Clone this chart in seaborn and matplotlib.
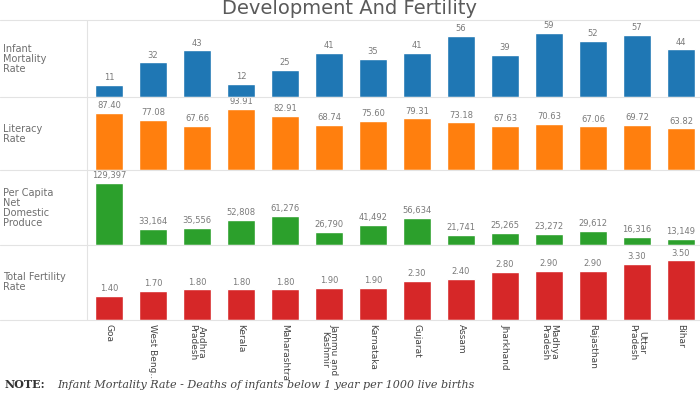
import numpy as np
import pandas as pd
import matplotlib
matplotlib.use("Agg")
import matplotlib.pyplot as plt
import seaborn as sns
from matplotlib.lines import Line2D

sns.set_style("white")
plt.rcParams['font.family'] = ['DejaVu Sans']

# data
states = ["Goa", "West Beng..", "Andhra\nPradesh", "Kerala", "Maharashtra",
          "Jammu and\nKashmir", "Karnataka", "Gujarat", "Assam", "Jharkhand",
          "Madhya\nPradesh", "Rajasthan", "Uttar\nPradesh", "Bihar"]
infant_mortality = [11, 32, 43, 12, 25, 41, 35, 41, 56, 39, 59, 52, 57, 44]
literacy = [87.40, 77.08, 67.66, 93.91, 82.91, 68.74, 75.60, 79.31, 73.18,
            67.63, 70.63, 67.06, 69.72, 63.82]
ndp = [129397, 33164, 35556, 52808, 61276, 26790, 41492, 56634, 21741,
       25265, 23272, 29612, 16316, 13149]
fertility = [1.40, 1.70, 1.80, 1.80, 1.80, 1.90, 1.90, 2.30, 2.40, 2.80,
             2.90, 2.90, 3.30, 3.50]

row_labels = ["Infant\nMortality\nRate", "Literacy\nRate",
              "Per Capita\nNet\nDomestic\nProduce", "Total Fertility\nRate"]
row_values = [infant_mortality, literacy, ndp, fertility]
row_formats = ["{:.0f}", "{:.2f}", "{:,.0f}", "{:.2f}"]
row_ylim = [71, 112, 156600, 4.4]
colors = ["#1f77b4", "#ff7f0e", "#2ca02c", "#d62728"]

W, H = 700, 393
fig = plt.figure(figsize=(7, 3.93), dpi=100)

# row boundaries in pixels (top, bottom)
rows_px = [(20, 97), (97, 170), (170, 245), (245, 320)]
left_px, right_px = 87, 703
grid_c = "#e3e3e3"
text_c = "#6e6e6e"

for i, (top, bot) in enumerate(rows_px):
    ax = fig.add_axes([left_px / W, 1 - bot / H, (right_px - left_px) / W, (bot - top) / H])
    df = pd.DataFrame({"state": states, "value": row_values[i]})
    sns.barplot(data=df, x="state", y="value", color=colors[i], saturation=1,
                width=0.64, ax=ax)
    ax.set_xlim(-0.5, len(states) - 0.5)
    ax.set_ylim(0, row_ylim[i])
    ax.bar_label(ax.containers[0], labels=[row_formats[i].format(v) for v in row_values[i]],
                 padding=2, fontsize=6, color="#7a7a7a")
    ax.set_xlabel("")
    ax.set_ylabel("")
    ax.set_yticks([])
    sns.despine(ax=ax, left=True, bottom=True)
    if i < 3:
        ax.set_xticks([])
    else:
        ax.tick_params(axis="x", length=0, pad=3)
        ax.set_xticks(range(len(states)))
        ax.set_xticklabels(states, rotation=270, fontsize=6.5, color="#444444",
                           ha="center", va="top", linespacing=1.0)
    fig.text(3 / W, 1 - (top + bot) / 2 / H, row_labels[i], fontsize=7,
             color=text_c, ha="left", va="center", linespacing=1.0)

# separators
for y in [20, 97, 170, 245, 320]:
    fig.add_artist(Line2D([0, 1], [1 - y / H, 1 - y / H], color=grid_c, lw=0.8))
fig.add_artist(Line2D([left_px / W, left_px / W], [1 - 20 / H, 1 - 320 / H], color=grid_c, lw=0.8))

fig.text(0.5, 1 - 9 / H, "Development And Fertility", fontsize=14, color="#5a5a5a",
         ha="center", va="center")

fig.text(5 / W, 1 - 385 / H, "NOTE:", fontsize=8, fontweight="bold", color="#333333",
         family="DejaVu Serif", ha="left", va="center")
fig.text(57 / W, 1 - 385 / H,
         "Infant Mortality Rate - Deaths of infants below 1 year per 1000 live births",
         fontsize=8, style="italic", color="#444444", family="DejaVu Serif",
         ha="left", va="center")

fig.savefig("out.png", dpi=100)
